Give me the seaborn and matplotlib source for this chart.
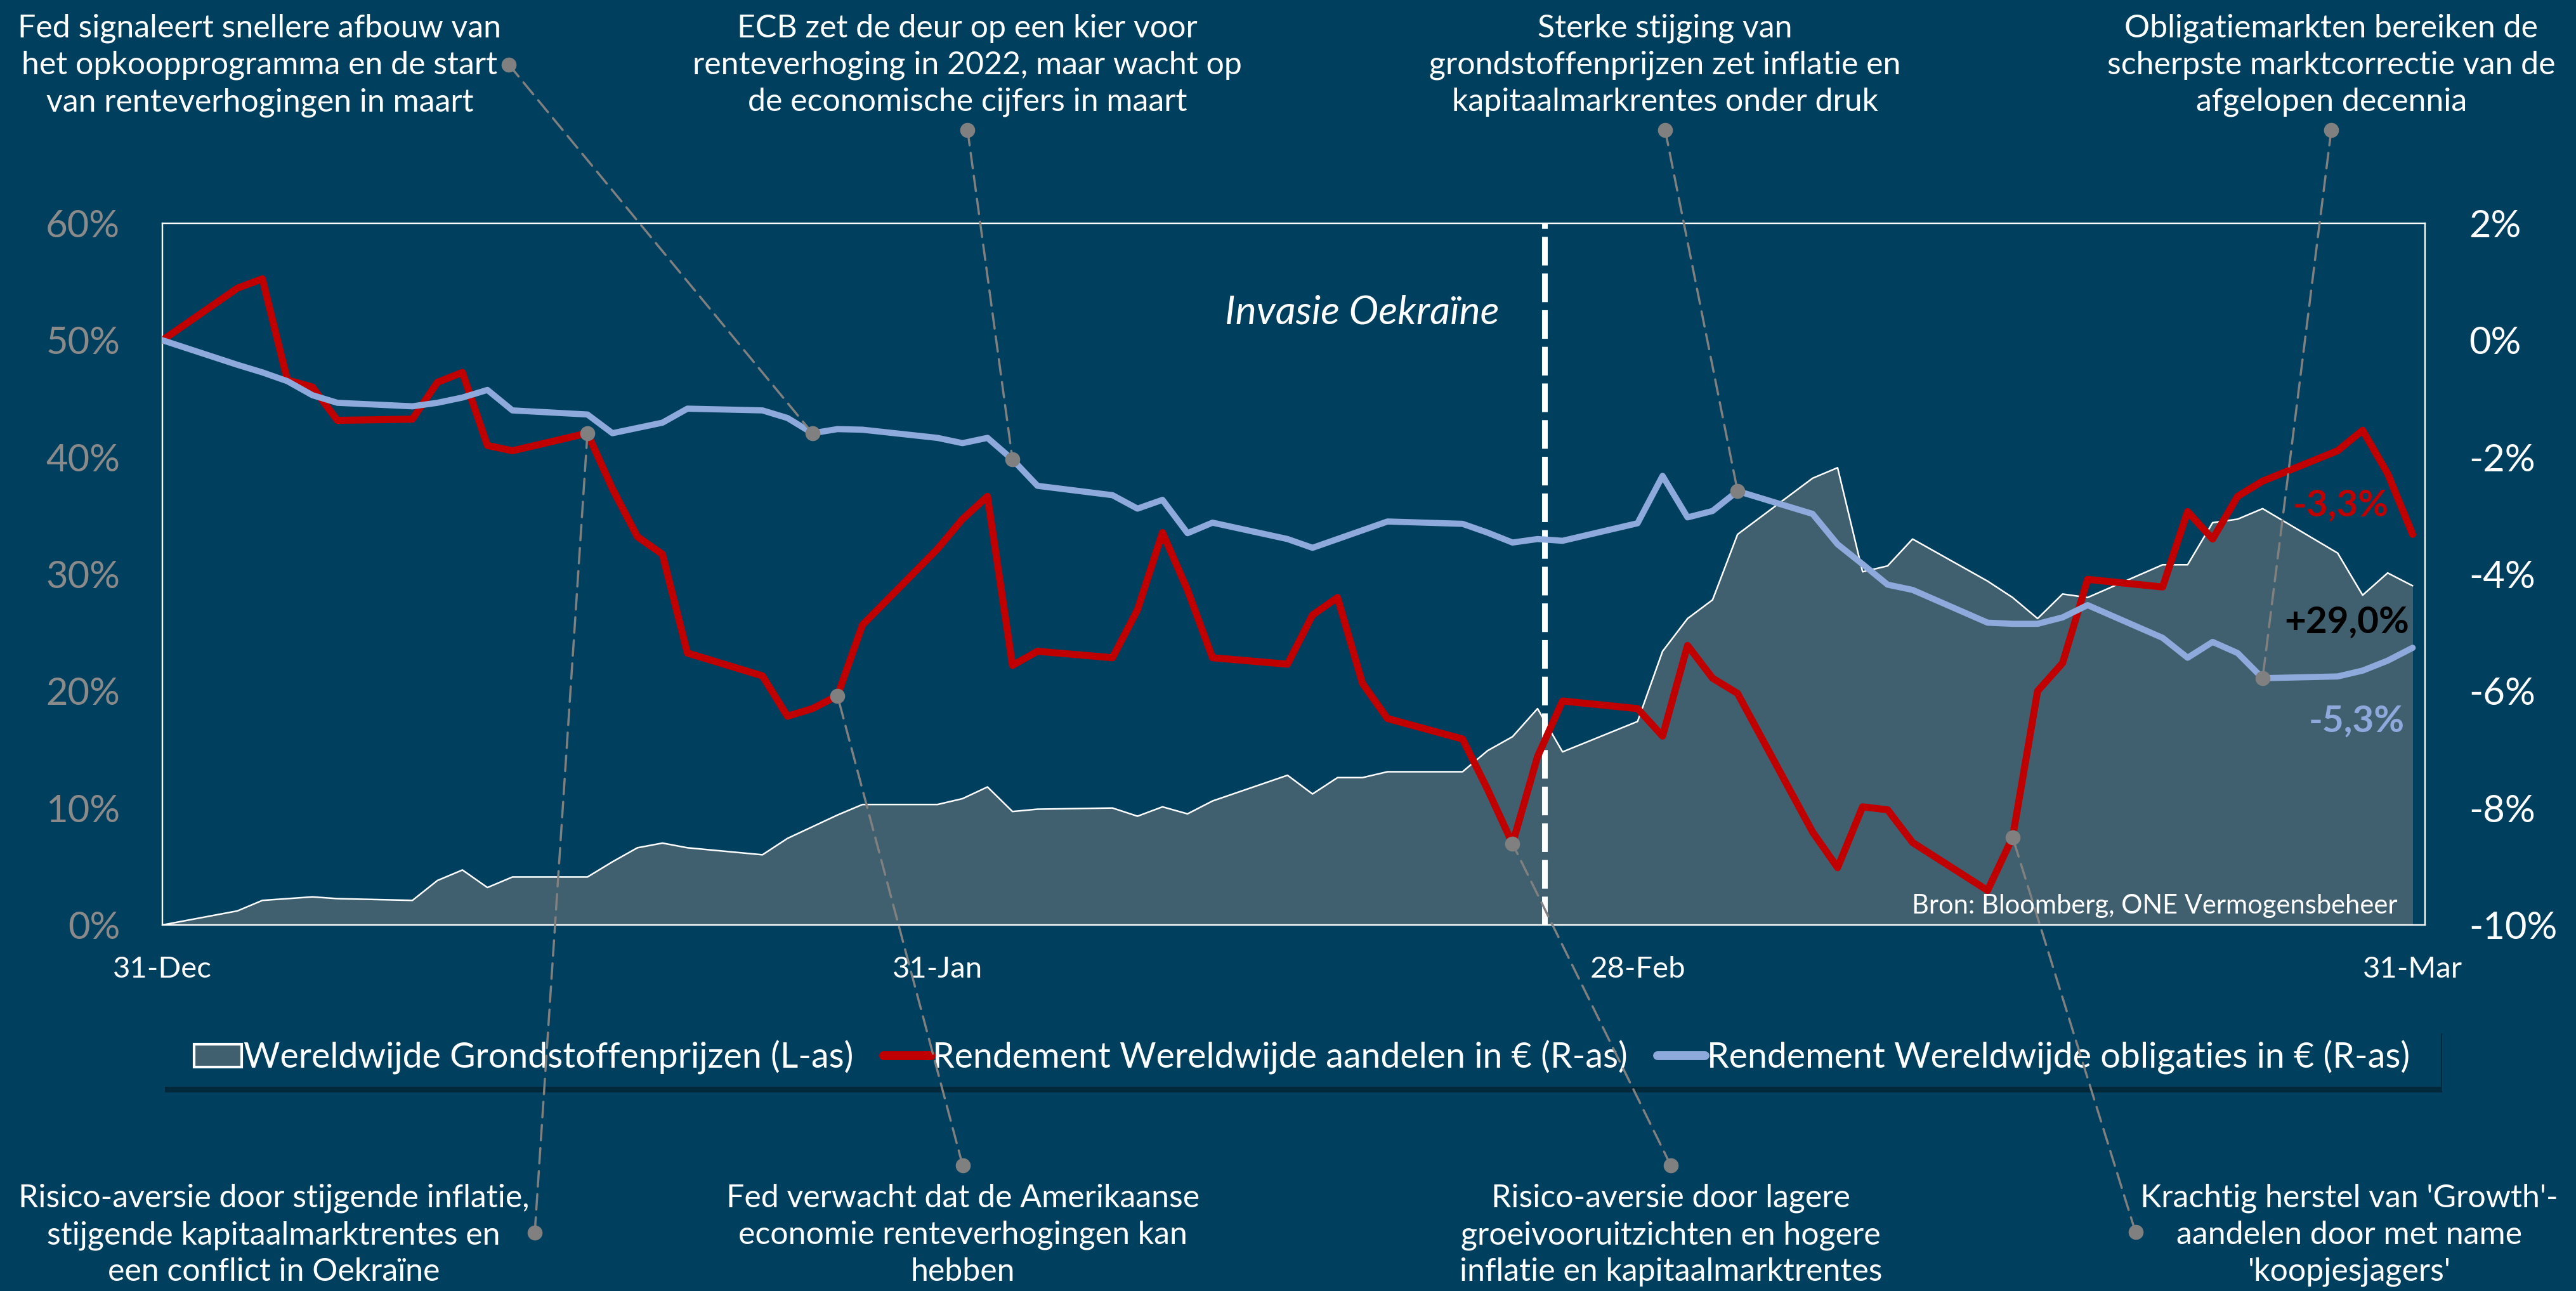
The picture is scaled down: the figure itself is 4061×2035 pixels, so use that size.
import matplotlib
matplotlib.use("Agg")

import matplotlib.dates as mdates         # noqa: E402
import matplotlib.pyplot as plt           # noqa: E402
import pandas as pd                       # noqa: E402
import seaborn as sns                     # noqa: E402
from matplotlib.lines import Line2D       # noqa: E402
from matplotlib.patches import ConnectionPatch, Patch, Rectangle  # noqa: E402

sns.set_theme(style="white")
plt.rcParams["font.family"] = ["Lato", "DejaVu Sans"]

BG = "#00405E"
AREA = "#40606F"
RED = "#C00000"
BLUE = "#8EA9DB"
GREY = "#808080"
TICK_GREY = "#8A8A8A"

# --------------------------------------------------------------------------- #
# Data (trading days 31-Dec-2021 .. 31-Mar-2022, values in %)
# --------------------------------------------------------------------------- #
dates = pd.bdate_range("2021-12-31", "2022-03-31")

commodities = [
    0.0,
    1.2, 2.1, 2.25, 2.4, 2.25,
    2.1, 3.8, 4.7, 3.2, 4.1,
    4.1, 5.4, 6.6, 7.0, 6.6,
    6.0, 7.4, 8.4, 9.4, 10.3,
    10.3, 10.8, 11.8, 9.7, 9.9,
    10.0, 9.3, 10.1, 9.5, 10.6,
    12.8, 11.2, 12.6, 12.6, 13.1,
    13.1, 14.9, 16.1, 18.5, 14.8,
    17.4, 23.4, 26.2, 27.8, 33.4,
    38.2, 39.1, 30.2, 30.7, 33.0,
    29.4, 28.0, 26.2, 28.3, 28.0,
    30.8, 30.8, 34.4, 34.7, 35.6,
    31.8, 28.2, 30.1, 29.0,
]

equities = [
    0.0,
    0.89, 1.05, -0.68, -0.80, -1.37,
    -1.35, -0.72, -0.55, -1.80, -1.89,
    -1.59, -2.54, -3.36, -3.66, -5.35,
    -5.74, -6.43, -6.30, -6.08, -4.87,
    -3.57, -3.06, -2.67, -5.56, -5.32,
    -5.43, -4.61, -3.29, -4.27, -5.43,
    -5.54, -4.70, -4.40, -5.87, -6.47,
    -6.82, -7.68, -8.61, -7.12, -6.17,
    -6.30, -6.77, -5.22, -5.78, -6.04,
    -8.41, -9.02, -7.98, -8.03, -8.59,
    -9.41, -8.50, -6.00, -5.52, -4.09,
    -4.22, -2.93, -3.40, -2.67, -2.41,
    -1.89, -1.54, -2.28, -3.32,
]

bonds = [
    0.0,
    -0.42, -0.55, -0.70, -0.94, -1.07,
    -1.13, -1.07, -0.98, -0.85, -1.20,
    -1.27, -1.59, -1.50, -1.41, -1.17,
    -1.20, -1.33, -1.59, -1.52, -1.53,
    -1.67, -1.76, -1.67, -2.04, -2.49,
    -2.65, -2.88, -2.73, -3.30, -3.12,
    -3.40, -3.55, -3.40, -3.25, -3.10,
    -3.14, -3.29, -3.46, -3.40, -3.43,
    -3.13, -2.32, -3.03, -2.92, -2.58,
    -2.97, -3.49, -3.83, -4.18, -4.27,
    -4.83, -4.85, -4.85, -4.74, -4.53,
    -5.09, -5.43, -5.16, -5.35, -5.78,
    -5.75, -5.65, -5.48, -5.26,
]

LABELS = [
    "Wereldwijde Grondstoffenprijzen (L-as)",
    "Rendement Wereldwijde aandelen in € (R-as)",
    "Rendement Wereldwijde obligaties in € (R-as)",
]

# annotation: (text, text centre x, text centre y, dot x, dot y, series, date)
TOP_NOTES = [
    ("Fed signaleert snellere afbouw van\nhet opkoopprogramma en de start\n"
     "van renteverhogingen in maart", 0.1008, 0.9494, 0.1975, 0.9500,
     "bonds", "2022-01-26"),
    ("ECB zet de deur op een kier voor\nrenteverhoging in 2022, maar wacht op\n"
     "de economische cijfers in maart", 0.3756, 0.9494, 0.3756, 0.8993,
     "bonds", "2022-02-03"),
    ("Sterke stijging van\ngrondstoffenprijzen zet inflatie en\n"
     "kapitaalmarkrentes onder druk", 0.6464, 0.9494, 0.6464, 0.8993,
     "bonds", "2022-03-04"),
    ("Obligatiemarkten bereiken de\nscherpste marktcorrectie van de\n"
     "afgelopen decennia", 0.9050, 0.9494, 0.9050, 0.8993,
     "bonds", "2022-03-25"),
]
BOTTOM_NOTES = [
    ("Risico-aversie door stijgende inflatie,\nstijgende kapitaalmarktrentes en\n"
     "een conflict in Oekraïne", 0.1062, 0.0432, 0.2076, 0.0452,
     "equities", "2022-01-17"),
    ("Fed verwacht dat de Amerikaanse\neconomie renteverhogingen kan\nhebben",
     0.3737, 0.0432, 0.3737, 0.0973, "equities", "2022-01-27"),
    ("Risico-aversie door lagere\ngroeivooruitzichten en hogere\n"
     "inflatie en kapitaalmarktrentes", 0.6486, 0.0432, 0.6486, 0.0973,
     "equities", "2022-02-23"),
    ("Krachtig herstel van 'Growth'-\naandelen door met name\n'koopjesjagers'",
     0.9120, 0.0432, 0.8290, 0.0457, "equities", "2022-03-15"),
]

df = pd.DataFrame(
    {"date": dates, "commodities": commodities,
     "equities": equities, "bonds": bonds}
)

# --------------------------------------------------------------------------- #
# Figure
# --------------------------------------------------------------------------- #
fig = plt.figure(figsize=(40.61, 20.35), dpi=100, facecolor=BG)
ax = fig.add_axes([0.06304, 0.28354, 0.8784, 0.5435])
ax.set_facecolor(BG)

# commodities area (left axis)
ax.fill_between(df["date"], df["commodities"], color=AREA, lw=0, zorder=1)
sns.lineplot(data=df, x="date", y="commodities", ax=ax,
             color="white", lw=1.8, zorder=2)

# returns (right axis)
ax2 = ax.twinx()
ax2.patch.set_visible(False)
sns.lineplot(data=df, x="date", y="equities", ax=ax2, color=RED, lw=8,
             solid_joinstyle="round", solid_capstyle="round", zorder=3)
sns.lineplot(data=df, x="date", y="bonds", ax=ax2, color=BLUE, lw=7,
             solid_joinstyle="round", solid_capstyle="round", zorder=4)

start = mdates.date2num(pd.Timestamp("2021-12-31"))
ax.set_xlim(start, start + 90.5)
ax.set_ylim(0, 60)
ax2.set_ylim(-10, 2)
ax.set_yticks(range(0, 61, 10))
ax2.set_yticks(range(-10, 3, 2))
ax.yaxis.set_major_formatter(lambda v, p: f"{v:.0f}%")
ax2.yaxis.set_major_formatter(lambda v, p: f"{v:.0f}%")
ax.set_xticks(pd.to_datetime(["2021-12-31", "2022-01-31",
                              "2022-02-28", "2022-03-31"]))
ax.xaxis.set_major_formatter(mdates.DateFormatter("%d-%b"))
for a in (ax, ax2):
    a.set_xlabel("")
    a.set_ylabel("")
    a.grid(False)
    for s in a.spines.values():
        s.set_color("white")
        s.set_linewidth(1.6)
ax.tick_params(axis="y", length=0, pad=48, labelsize=43, labelcolor=TICK_GREY)
ax.tick_params(axis="x", length=0, pad=35, labelsize=34, labelcolor="white")
ax2.tick_params(axis="y", length=0, pad=50, labelsize=43, labelcolor="white")

# invasion marker
inv = pd.Timestamp("2022-02-24 07:00")
ax.axvline(inv, color="white", lw=6.5, ls=(0, (5, 1.4)), zorder=5)
fig.text(0.5287, 0.7577, "Invasie Oekraïne", color="white", fontsize=45,
         style="italic", ha="center", va="center")

# end labels
fig.text(0.9086, 0.608, "-3,3%", color=RED, fontsize=42, weight="bold",
         ha="center", va="center")
fig.text(0.9110, 0.518, "+29,0%", color="black", fontsize=42, weight="bold",
         ha="center", va="center")
fig.text(0.9148, 0.4413, "-5,3%", color=BLUE, fontsize=42, weight="bold",
         ha="center", va="center")
fig.text(0.9306, 0.2983, "Bron: Bloomberg, ONE Vermogensbeheer",
         color="white", fontsize=30, ha="right", va="center")

# annotations with dashed connectors
for text, tx, ty, dx, dy, series, day in TOP_NOTES + BOTTOM_NOTES:
    fig.text(tx, ty, text, color="white", fontsize=36, ha="center",
             va="center", multialignment="center", linespacing=1.32)
    d = pd.Timestamp(day)
    val = df.loc[df["date"] == d, series].iloc[0]
    con = ConnectionPatch(
        xyA=(dx, dy), coordsA=fig.transFigure,
        xyB=(mdates.date2num(d), val), coordsB=ax2.transData,
        color=GREY, lw=2.5, ls=(0, (7, 3.5)), zorder=6,
    )
    fig.add_artist(con)
    fig.add_artist(Line2D([dx], [dy], transform=fig.transFigure, marker="o",
                          ms=16, color=GREY, ls="none", zorder=7))
    ax2.plot([d], [val], marker="o", ms=16, color=GREY, ls="none",
             zorder=8, clip_on=False)

# legend box with shadow
fig.add_artist(Rectangle((0.0640, 0.1540), 0.8841, 0.0457,
                         transform=fig.transFigure, fc="#00283B", ec="none",
                         zorder=1))
fig.add_artist(Rectangle((0.0635, 0.1582), 0.8841, 0.0457,
                         transform=fig.transFigure, fc=BG, ec="none",
                         zorder=2))
handles = [
    Patch(facecolor=AREA, edgecolor="white", linewidth=3),
    Line2D([], [], color=RED, lw=10, solid_capstyle="round"),
    Line2D([], [], color=BLUE, lw=10, solid_capstyle="round"),
]
leg = fig.legend(handles, LABELS, loc="center", bbox_to_anchor=(0.5055, 0.181),
                 ncol=3, frameon=False, fontsize=40, handlelength=1.35,
                 handleheight=0.63, handletextpad=0.05, columnspacing=0.85,
                 labelcolor="white")
leg.set_zorder(3)

fig.savefig("out.png", dpi=100, facecolor=BG)
